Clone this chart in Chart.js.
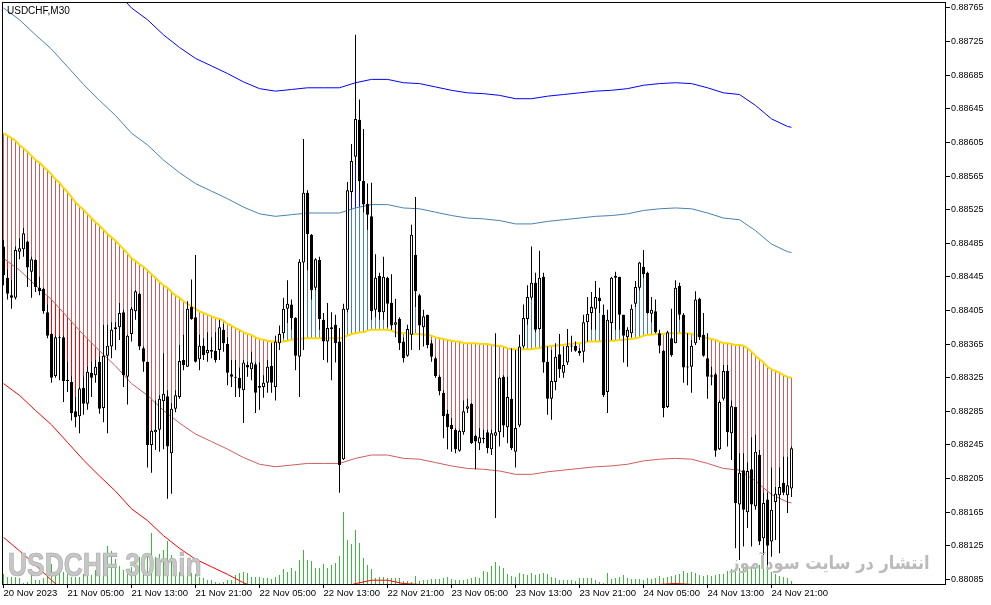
<!DOCTYPE html>
<html><head><meta charset="utf-8">
<script src="https://cdn.jsdelivr.net/npm/chart.js@4/dist/chart.umd.min.js"></script>
<style>
html,body{margin:0;padding:0;background:#fff;}
#wrap{position:relative;width:991px;height:605px;overflow:hidden;background:#fff;}
#c{position:absolute;left:0;top:0;}
.ov{position:absolute;white-space:nowrap;pointer-events:none;}
#title{left:7px;top:5px;font:10px/11px "Liberation Sans",Arial,sans-serif;color:#000;}
#wm1{left:8px;top:548px;font:bold 33px/33px "Liberation Sans",Arial,sans-serif;color:#c6c6c6;-webkit-text-stroke:0.7px #a9a9a9;transform:scaleX(0.8);transform-origin:0 0;}
#wm2{right:61px;top:552px;font:bold 18px/22px "DejaVu Sans",sans-serif;color:#bababa;direction:rtl;transform:scaleX(0.9);transform-origin:100% 0;}
</style></head>
<body>
<div id="wrap">
<canvas id="c" width="991" height="605"></canvas>
<div class="ov" id="title">USDCHF,M30</div>
<div class="ov" id="wm1">USDCHF 30min</div>
<div class="ov" id="wm2">انتشار در سایت سودآموز</div>
</div>
<script>
// USDCHF M30, 20 Nov 2023 21:00 .. 24 Nov 2023 23:30 (one entry per bar)
const tickLabels = ["20 Nov 2023","21 Nov 05:00","21 Nov 13:00","21 Nov 21:00","22 Nov 05:00","22 Nov 13:00","22 Nov 21:00","23 Nov 05:00","23 Nov 13:00","23 Nov 21:00","24 Nov 05:00","24 Nov 13:00","24 Nov 21:00"];
const barsPerLabel = 16;
const priceTicks = [0.88085,0.88125,0.88165,0.88205,0.88245,0.88285,0.88325,0.88365,0.88405,0.88445,0.88485,0.88525,0.88565,0.88605,0.88645,0.88685,0.88725,0.88765];

const open = [0.88481,0.88444,0.88423,0.88420,0.88475,0.88478,0.88487,0.88451,0.88465,0.88432,
0.88431,0.88403,0.88377,0.88327,0.88373,0.88373,0.88322,0.88320,0.88285,0.88279,
0.88313,0.88294,0.88331,0.88328,0.88344,0.88289,0.88351,0.88362,0.88383,0.88385,
0.88403,0.88326,0.88377,0.88404,0.88425,0.88360,0.88344,0.88245,0.88260,0.88263,
0.88297,0.88303,0.88235,0.88288,0.88302,0.88346,0.88338,0.88409,0.88397,0.88347,
0.88363,0.88354,0.88358,0.88357,0.88358,0.88382,0.88365,0.88329,0.88326,0.88325,
0.88310,0.88340,0.88335,0.88341,0.88313,0.88314,0.88319,0.88339,0.88314,0.88366,
0.88378,0.88407,0.88412,0.88396,0.88350,0.88462,0.88545,0.88495,0.88432,0.88465,
0.88394,0.88368,0.88383,0.88388,0.88368,0.88228,0.88406,0.88546,0.88588,0.88632,
0.88559,0.88532,0.88517,0.88406,0.88446,0.88403,0.88444,0.88414,0.88388,0.88395,
0.88368,0.88351,0.88376,0.88471,0.88423,0.88385,0.88400,0.88366,0.88348,0.88326,
0.88307,0.88282,0.88269,0.88263,0.88238,0.88260,0.88288,0.88294,0.88256,0.88247,
0.88253,0.88260,0.88240,0.88256,0.88260,0.88326,0.88266,0.88300,0.88237,0.88268,
0.88362,0.88395,0.88420,0.88438,0.88383,0.88445,0.88344,0.88300,0.88320,0.88353,
0.88331,0.88343,0.88363,0.88363,0.88357,0.88356,0.88391,0.88402,0.88407,0.88420,
0.88400,0.88308,0.88390,0.88446,0.88445,0.88400,0.88373,0.88378,0.88413,0.88432,
0.88457,0.88450,0.88401,0.88404,0.88378,0.88357,0.88290,0.88372,0.88366,0.88434,
0.88400,0.88338,0.88338,0.88366,0.88419,0.88376,0.88348,0.88328,0.88329,0.88240,
0.88300,0.88333,0.88259,0.88290,0.88174,0.88215,0.88165,0.88216,0.88172,0.88233,
0.88134,0.88180,0.88130,0.88177,0.88185,0.88200,0.88185,0.88193];

const high = [0.88489,0.88454,0.88441,0.88481,0.88491,0.88503,0.88488,0.88469,0.88466,0.88445,
0.88432,0.88412,0.88378,0.88375,0.88375,0.88375,0.88344,0.88327,0.88302,0.88314,
0.88326,0.88338,0.88344,0.88346,0.88350,0.88388,0.88388,0.88391,0.88391,0.88414,
0.88406,0.88376,0.88409,0.88429,0.88426,0.88362,0.88344,0.88263,0.88298,0.88304,
0.88354,0.88310,0.88295,0.88310,0.88364,0.88376,0.88416,0.88442,0.88471,0.88376,
0.88372,0.88379,0.88373,0.88379,0.88394,0.88389,0.88373,0.88346,0.88346,0.88337,
0.88346,0.88344,0.88356,0.88343,0.88343,0.88328,0.88346,0.88366,0.88375,0.88387,
0.88420,0.88441,0.88418,0.88397,0.88466,0.88609,0.88548,0.88496,0.88467,0.88469,
0.88402,0.88414,0.88403,0.88400,0.88384,0.88413,0.88558,0.88603,0.88733,0.88656,
0.88621,0.88556,0.88557,0.88472,0.88450,0.88469,0.88445,0.88448,0.88419,0.88397,
0.88373,0.88388,0.88507,0.88540,0.88425,0.88406,0.88400,0.88370,0.88350,0.88328,
0.88310,0.88287,0.88277,0.88265,0.88263,0.88298,0.88300,0.88295,0.88257,0.88265,
0.88263,0.88263,0.88263,0.88378,0.88326,0.88328,0.88326,0.88360,0.88358,0.88376,
0.88412,0.88435,0.88481,0.88450,0.88476,0.88450,0.88362,0.88358,0.88366,0.88377,
0.88362,0.88383,0.88375,0.88368,0.88360,0.88400,0.88421,0.88427,0.88440,0.88432,
0.88412,0.88406,0.88445,0.88451,0.88445,0.88400,0.88385,0.88412,0.88440,0.88463,
0.88477,0.88451,0.88421,0.88418,0.88382,0.88358,0.88381,0.88407,0.88441,0.88438,
0.88402,0.88378,0.88370,0.88428,0.88420,0.88402,0.88378,0.88338,0.88331,0.88298,
0.88340,0.88340,0.88298,0.88290,0.88235,0.88235,0.88224,0.88254,0.88257,0.88239,
0.88188,0.88188,0.88218,0.88195,0.88218,0.88231,0.88231,0.88243];

const low = [0.88435,0.88418,0.88407,0.88418,0.88466,0.88469,0.88433,0.88420,0.88427,0.88423,
0.88401,0.88372,0.88319,0.88325,0.88322,0.88296,0.88308,0.88274,0.88266,0.88259,
0.88281,0.88287,0.88302,0.88319,0.88282,0.88272,0.88259,0.88348,0.88358,0.88370,
0.88314,0.88293,0.88368,0.88394,0.88358,0.88332,0.88218,0.88212,0.88239,0.88237,
0.88240,0.88181,0.88187,0.88284,0.88300,0.88334,0.88338,0.88394,0.88343,0.88334,
0.88346,0.88344,0.88348,0.88343,0.88346,0.88356,0.88316,0.88314,0.88302,0.88302,
0.88271,0.88326,0.88322,0.88283,0.88287,0.88301,0.88307,0.88307,0.88298,0.88358,
0.88372,0.88390,0.88382,0.88334,0.88302,0.88358,0.88453,0.88418,0.88429,0.88382,
0.88346,0.88343,0.88322,0.88343,0.88188,0.88227,0.88403,0.88541,0.88578,0.88548,
0.88522,0.88501,0.88394,0.88397,0.88394,0.88394,0.88385,0.88382,0.88373,0.88358,
0.88343,0.88350,0.88358,0.88409,0.88358,0.88362,0.88360,0.88344,0.88325,0.88304,
0.88253,0.88240,0.88237,0.88235,0.88237,0.88257,0.88283,0.88246,0.88216,0.88239,
0.88247,0.88235,0.88233,0.88158,0.88243,0.88254,0.88247,0.88239,0.88218,0.88266,
0.88360,0.88388,0.88418,0.88379,0.88382,0.88331,0.88281,0.88275,0.88310,0.88325,
0.88325,0.88340,0.88356,0.88356,0.88351,0.88343,0.88368,0.88382,0.88382,0.88402,
0.88302,0.88283,0.88370,0.88382,0.88382,0.88343,0.88338,0.88373,0.88409,0.88429,
0.88444,0.88401,0.88391,0.88378,0.88354,0.88278,0.88289,0.88350,0.88366,0.88394,
0.88319,0.88316,0.88307,0.88364,0.88370,0.88350,0.88300,0.88316,0.88231,0.88239,
0.88298,0.88243,0.88227,0.88122,0.88108,0.88124,0.88146,0.88124,0.88168,0.88126,
0.88114,0.88102,0.88112,0.88132,0.88116,0.88185,0.88164,0.88183];

const close = [0.88447,0.88425,0.88420,0.88477,0.88479,0.88497,0.88456,0.88466,0.88433,0.88428,
0.88404,0.88375,0.88325,0.88373,0.88372,0.88321,0.88321,0.88283,0.88278,0.88312,
0.88294,0.88332,0.88325,0.88338,0.88288,0.88351,0.88363,0.88382,0.88385,0.88402,
0.88328,0.88375,0.88407,0.88428,0.88362,0.88344,0.88245,0.88262,0.88263,0.88300,
0.88306,0.88243,0.88288,0.88304,0.88345,0.88340,0.88407,0.88395,0.88344,0.88363,
0.88352,0.88358,0.88356,0.88346,0.88385,0.88366,0.88331,0.88326,0.88325,0.88312,
0.88343,0.88337,0.88343,0.88307,0.88315,0.88319,0.88338,0.88319,0.88368,0.88377,
0.88407,0.88413,0.88396,0.88351,0.88463,0.88545,0.88496,0.88429,0.88466,0.88395,
0.88368,0.88384,0.88385,0.88366,0.88221,0.88407,0.88548,0.88583,0.88633,0.88559,
0.88531,0.88519,0.88404,0.88444,0.88403,0.88445,0.88413,0.88387,0.88391,0.88366,
0.88348,0.88383,0.88495,0.88428,0.88387,0.88398,0.88364,0.88350,0.88327,0.88309,
0.88279,0.88266,0.88264,0.88240,0.88262,0.88285,0.88291,0.88247,0.88249,0.88254,
0.88252,0.88241,0.88259,0.88260,0.88325,0.88268,0.88302,0.88241,0.88265,0.88362,
0.88396,0.88421,0.88438,0.88382,0.88444,0.88343,0.88300,0.88321,0.88350,0.88335,
0.88340,0.88363,0.88362,0.88357,0.88354,0.88391,0.88401,0.88409,0.88421,0.88416,
0.88304,0.88394,0.88444,0.88444,0.88400,0.88375,0.88382,0.88407,0.88433,0.88462,
0.88448,0.88402,0.88406,0.88379,0.88363,0.88289,0.88379,0.88352,0.88432,0.88400,
0.88337,0.88337,0.88363,0.88418,0.88373,0.88351,0.88326,0.88326,0.88238,0.88296,
0.88333,0.88260,0.88291,0.88176,0.88212,0.88168,0.88214,0.88174,0.88237,0.88130,
0.88176,0.88125,0.88168,0.88187,0.88195,0.88188,0.88197,0.88241];

// tick volume per bar
const volume = [400,280,280,280,240,40,80,400,160,160,
240,360,800,400,560,480,400,280,280,280,
400,480,360,560,840,1200,1520,1320,1000,720,
560,520,680,920,1080,800,1200,2040,1080,1200,
1360,1720,1160,880,480,440,680,440,400,280,
240,160,160,80,40,80,160,160,360,440,
480,440,280,280,280,240,240,200,280,360,
600,480,640,520,960,1360,960,920,640,640,
800,640,760,840,1120,2880,1760,1600,2160,1640,
1040,760,600,240,280,280,240,240,240,240,
120,120,80,320,120,160,160,200,200,200,
240,280,200,160,160,160,200,240,280,240,
520,480,720,880,720,640,400,320,280,440,
400,360,440,360,400,440,400,280,240,160,
160,160,160,120,240,240,240,240,160,80,
40,440,200,240,280,360,240,200,200,200,
160,240,200,240,320,240,280,320,360,400,
520,440,480,440,360,320,360,320,360,400,
400,520,600,640,640,760,600,720,600,760,
960,840,480,400,320,280,240,120];

// envelope middle line (per bar)
const middle = [0.88616,0.88613,0.88610,0.88607,0.88602,0.88598,0.88594,0.88589,0.88584,0.88581,
0.88576,0.88572,0.88567,0.88561,0.88557,0.88551,0.88546,0.88540,0.88534,0.88529,
0.88525,0.88520,0.88515,0.88510,0.88506,0.88501,0.88496,0.88492,0.88488,0.88483,
0.88478,0.88473,0.88467,0.88464,0.88460,0.88457,0.88453,0.88448,0.88444,0.88439,
0.88435,0.88432,0.88427,0.88423,0.88420,0.88416,0.88413,0.88410,0.88407,0.88404,
0.88402,0.88400,0.88398,0.88396,0.88395,0.88393,0.88389,0.88387,0.88384,0.88382,
0.88379,0.88377,0.88376,0.88373,0.88371,0.88370,0.88369,0.88368,0.88368,0.88368,
0.88368,0.88369,0.88370,0.88371,0.88371,0.88372,0.88372,0.88372,0.88372,0.88372,
0.88372,0.88372,0.88372,0.88372,0.88372,0.88373,0.88375,0.88377,0.88378,0.88379,
0.88379,0.88381,0.88382,0.88382,0.88382,0.88382,0.88382,0.88381,0.88379,0.88378,
0.88378,0.88378,0.88377,0.88377,0.88377,0.88376,0.88376,0.88375,0.88373,0.88372,
0.88371,0.88370,0.88369,0.88368,0.88368,0.88366,0.88366,0.88366,0.88366,0.88365,
0.88365,0.88365,0.88364,0.88363,0.88363,0.88362,0.88360,0.88359,0.88359,0.88358,
0.88359,0.88359,0.88359,0.88360,0.88360,0.88362,0.88362,0.88363,0.88363,0.88364,
0.88364,0.88365,0.88365,0.88366,0.88366,0.88366,0.88368,0.88368,0.88368,0.88368,
0.88369,0.88369,0.88369,0.88369,0.88370,0.88370,0.88371,0.88371,0.88372,0.88373,
0.88375,0.88376,0.88376,0.88377,0.88377,0.88377,0.88378,0.88378,0.88378,0.88378,
0.88378,0.88378,0.88377,0.88376,0.88375,0.88373,0.88372,0.88371,0.88370,0.88368,
0.88366,0.88366,0.88365,0.88364,0.88364,0.88363,0.88360,0.88356,0.88351,0.88347,
0.88343,0.88338,0.88335,0.88333,0.88331,0.88328,0.88326,0.88325];

// envelope bands, read every 4th bar (bar index in bandBars)
const bandBars = [0,4,8,12,16,20,24,28,32,36,40,44,48,52,56,60,64,68,72,76,80,84,88,92,96,100,104,108,112,116,120,124,128,132,136,140,144,148,152,156,160,164,168,172,176,180,184,188,192,196,197];
const upOuter = [0.88914,0.88900,0.88882,0.88865,0.88844,0.88823,0.88804,0.88786,0.88765,0.88751,0.88733,0.88718,0.88705,0.88696,0.88687,0.88677,0.88669,0.88666,0.88668,0.88670,0.88670,0.88670,0.88676,0.88680,0.88680,0.88676,0.88675,0.88671,0.88667,0.88664,0.88663,0.88661,0.88657,0.88657,0.88660,0.88662,0.88664,0.88666,0.88667,0.88669,0.88673,0.88675,0.88676,0.88675,0.88670,0.88664,0.88662,0.88649,0.88633,0.88624,0.88623];
const upInner = [0.88765,0.88751,0.88733,0.88716,0.88695,0.88674,0.88655,0.88637,0.88616,0.88602,0.88584,0.88569,0.88556,0.88547,0.88538,0.88528,0.88520,0.88517,0.88519,0.88521,0.88521,0.88521,0.88527,0.88531,0.88531,0.88527,0.88526,0.88522,0.88518,0.88515,0.88514,0.88512,0.88508,0.88508,0.88511,0.88513,0.88515,0.88517,0.88518,0.88520,0.88524,0.88526,0.88527,0.88526,0.88521,0.88515,0.88513,0.88500,0.88484,0.88475,0.88474];
const loInner = [0.88467,0.88453,0.88435,0.88418,0.88397,0.88376,0.88357,0.88339,0.88318,0.88304,0.88286,0.88271,0.88258,0.88249,0.88240,0.88230,0.88222,0.88219,0.88221,0.88223,0.88223,0.88223,0.88229,0.88233,0.88233,0.88229,0.88228,0.88224,0.88220,0.88217,0.88216,0.88214,0.88210,0.88210,0.88213,0.88215,0.88217,0.88219,0.88220,0.88222,0.88226,0.88228,0.88229,0.88228,0.88223,0.88217,0.88215,0.88202,0.88186,0.88177,0.88176];
const loOuter = [0.88318,0.88304,0.88286,0.88269,0.88248,0.88227,0.88208,0.88190,0.88169,0.88155,0.88137,0.88122,0.88109,0.88100,0.88091,0.88081,0.88073,0.88070,0.88072,0.88074,0.88074,0.88074,0.88080,0.88084,0.88084,0.88080,0.88079,0.88075,0.88071,0.88068,0.88067,0.88065,0.88061,0.88061,0.88064,0.88066,0.88068,0.88070,0.88071,0.88073,0.88077,0.88079,0.88080,0.88079,0.88074,0.88068,0.88066,0.88053,0.88037,0.88028,0.88027];
// extra red line visible only at the far left bottom
const extraBars = [0,4,8,12,16];
const extraLow = [0.88135,0.88119,0.88102,0.88084,0.88068];

// ---- build library tables from the arrays ----
const bodyData = open.map((o, i) => ({x: i, y: [o, close[i]]}));
const bodyFill = open.map((o, i) => close[i] >= o ? '#ffffff' : '#000000');
const wickData = low.map((l, i) => ({x: i, y: [l, high[i]]}));
const histData = middle.map((m, i) => ({x: i, y: [m, close[i]]}));
const histLight = close.map((c, i) => c >= middle[i] ? '#4682B4' : '#CD5C5C');
const histStrong = close.map((c, i) => c >= middle[i] ? '#0000FF' : '#FF0000');
const midData = middle.map((m, i) => ({x: i, y: m}));
const bandData = arr => arr.map((v, k) => ({x: bandBars[k], y: v}));
const volData = volume.map((v, i) => ({x: i, y: v}));

const lineBase = {type: 'line', pointRadius: 0, pointHitRadius: 0, tension: 0, fill: false, borderWidth: 1};
const barBase = {type: 'bar', grouped: false, inflateAmount: 0, borderWidth: 0, barThickness: 1};

const UP_IN = 4, LO_IN = 5, STRONG = 8;

const bandClip = {
  id: 'bandClip',
  beforeDatasetDraw(chart, args) {
    if (args.index !== STRONG) return;
    const ctx = chart.ctx, a = chart.chartArea;
    const up = chart.getDatasetMeta(UP_IN).data;
    const lo = chart.getDatasetMeta(LO_IN).data;
    ctx.save();
    ctx.beginPath();
    ctx.moveTo(a.left, a.top);
    ctx.lineTo(a.left, up[0].y);
    up.forEach(p => ctx.lineTo(p.x, p.y));
    ctx.lineTo(a.right, up[up.length - 1].y);
    ctx.lineTo(a.right, a.top);
    ctx.closePath();
    ctx.moveTo(a.left, a.bottom);
    ctx.lineTo(a.left, lo[0].y);
    lo.forEach(p => ctx.lineTo(p.x, p.y));
    ctx.lineTo(a.right, lo[lo.length - 1].y);
    ctx.lineTo(a.right, a.bottom);
    ctx.closePath();
    ctx.clip();
  },
  afterDatasetDraw(chart, args) {
    if (args.index !== STRONG) return;
    chart.ctx.restore();
  }
};

const frame = {
  id: 'frame',
  afterDraw(chart) {
    const c = chart.ctx, a = chart.chartArea;
    c.save();
    c.strokeStyle = '#000';
    c.lineWidth = 1;
    c.strokeRect(a.left - 0.5, a.top - 0.5, a.right - a.left, a.bottom - a.top + 1);
    c.restore();
  }
};

new Chart(document.getElementById('c'), {
  data: {
    datasets: [
      {type: 'bar', label: 'body', data: bodyData, backgroundColor: bodyFill, borderColor: '#000', borderWidth: 1,
       borderSkipped: false, barThickness: 3, grouped: false, inflateAmount: 0, minBarLength: 1, order: 0},
      Object.assign({}, barBase, {label: 'wick', data: wickData, backgroundColor: '#000', order: 1}),
      Object.assign({}, lineBase, {label: 'middle', data: midData, borderColor: '#FFD700', borderWidth: 2, order: 2}),
      Object.assign({}, lineBase, {label: 'upOuter', data: bandData(upOuter), borderColor: '#0000FF', order: 3}),
      Object.assign({}, lineBase, {label: 'upInner', data: bandData(upInner), borderColor: '#4682B4', order: 3}),
      Object.assign({}, lineBase, {label: 'loInner', data: bandData(loInner), borderColor: '#CD5C5C', order: 3}),
      Object.assign({}, lineBase, {label: 'loOuter', data: bandData(loOuter), borderColor: '#FF0000', order: 3}),
      Object.assign({}, lineBase, {label: 'extra', data: extraLow.map((v, k) => ({x: extraBars[k], y: v})), borderColor: '#FF0000', order: 3}),
      Object.assign({}, barBase, {label: 'histStrong', data: histData, backgroundColor: histStrong, order: 4}),
      Object.assign({}, barBase, {label: 'histLight', data: histData, backgroundColor: histLight, order: 5}),
      Object.assign({}, barBase, {label: 'volume', data: volData, yAxisID: 'yv', backgroundColor: '#3cb83c', order: 6})
    ]
  },
  options: {
    responsive: false,
    animation: false,
    devicePixelRatio: 1,
    events: [],
    layout: {padding: {left: 3, top: 3, right: 0, bottom: 0}},
    plugins: {legend: {display: false}, tooltip: {enabled: false}, title: {display: false}},
    scales: {
      x: {
        type: 'linear', position: 'bottom', min: -0.125, max: 235.625, bounds: 'data', offset: false,
        afterBuildTicks: s => { s.ticks = tickLabels.map((_, k) => ({value: k * barsPerLabel})); },
        afterFit: s => { s.height = 21; s.paddingLeft = 0; s.paddingRight = 0; },
        ticks: {
          callback: v => tickLabels[Math.round(v / barsPerLabel)],
          align: 'start', maxRotation: 0, minRotation: 0, autoSkip: false, padding: 0,
          color: '#000', font: {family: '"Liberation Sans", Arial, sans-serif', size: 9.5}
        },
        grid: {drawOnChartArea: false, drawTicks: true, tickLength: 4, color: '#000', offset: false},
        border: {display: false}
      },
      y: {
        type: 'linear', position: 'right', min: 0.880795, max: 0.887709, bounds: 'data',
        afterBuildTicks: s => { s.ticks = priceTicks.map(v => ({value: v})); },
        afterFit: s => { s.width = 45; s.paddingTop = 0; s.paddingBottom = 0; },
        ticks: {
          callback: v => Number(v).toFixed(5), padding: 1, crossAlign: 'near',
          color: '#000', font: {family: '"Liberation Sans", Arial, sans-serif', size: 9}
        },
        grid: {drawOnChartArea: false, drawTicks: true, tickLength: 4, color: '#000'},
        border: {display: false}
      },
      yv: {type: 'linear', display: false, min: 0, max: 23240}
    }
  },
  plugins: [bandClip, frame]
});
</script>
</body></html>
